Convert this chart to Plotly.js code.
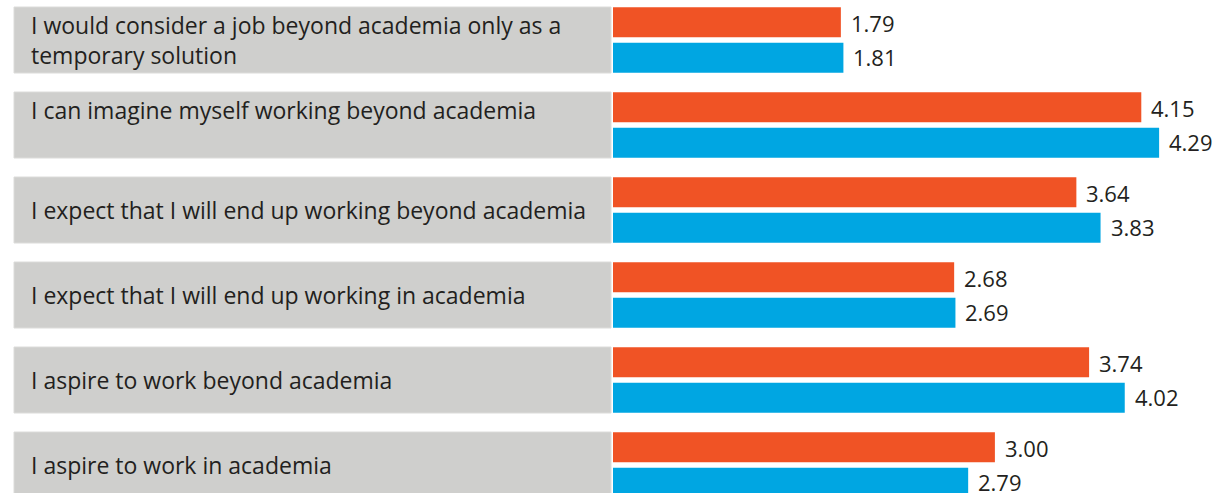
<!DOCTYPE html>
<html>
<head>
<meta charset="utf-8">
<script src="https://cdn.plot.ly/plotly-3.0.1.min.js"></script>
<style>
  html, body { margin: 0; padding: 0; background: #ffffff; }
  #chart { width: 1221px; height: 493px; }
</style>
</head>
<body>
<div id="chart"></div>
<script>
// ---- data ----
var statements = [
  "I would consider a job beyond academia only as a temporary solution",
  "I can imagine myself working beyond academia",
  "I expect that I will end up working beyond academia",
  "I expect that I will end up working in academia",
  "I aspire to work beyond academia",
  "I aspire to work in academia"
];
var statementLabels = [
  "I would consider a job beyond academia only as a<br>temporary solution",
  "I can imagine myself working beyond academia<br>&nbsp;",
  "I expect that I will end up working beyond academia",
  "I expect that I will end up working in academia",
  "I aspire to work beyond academia",
  "I aspire to work in academia"
];
var seriesOrange = [1.79, 4.15, 3.64, 2.68, 3.74, 3.00];
var seriesBlue   = [1.81, 4.29, 3.83, 2.69, 4.02, 2.79];

// ---- layout constants (pixels) ----
var W = 1221, H = 493;
var plotLeft = 613;
var plotW = W - plotLeft;
var pxPerUnit = 127.3;
var rowPx = 85;
var firstCenter = 40;
function px2paperX(px) { return (px - plotLeft) / plotW; }

var orange = '#F05325';
var blue = '#00A6E2';
var textColor = '#231F20';
var fontFam = '"Open Sans", "Noto Sans", sans-serif';

var traces = [
  { type: 'bar', orientation: 'h', y: statements, x: seriesOrange,
    marker: { color: orange }, hoverinfo: 'x' },
  { type: 'bar', orientation: 'h', y: statements, x: seriesBlue,
    marker: { color: blue }, hoverinfo: 'x' }
];

var shapes = [];
var annotations = [];
var half = 33 / rowPx;
statements.forEach(function (s, i) {
  shapes.push({
    type: 'rect', xref: 'paper', yref: 'y', layer: 'below',
    x0: px2paperX(14), x1: px2paperX(611),
    y0: i - half, y1: i + half,
    fillcolor: '#CFCFCD', line: { width: 1, color: '#DCDCDA' }
  });
  annotations.push({
    xref: 'paper', yref: 'y', x: px2paperX(29), y: s,
    xanchor: 'left', yanchor: 'middle', align: 'left',
    text: statementLabels[i], showarrow: false,
    font: { family: fontFam, size: 23, color: textColor }
  });
  annotations.push({
    xref: 'x', yref: 'y', x: seriesOrange[i], y: s,
    xanchor: 'left', yanchor: 'middle', xshift: 8, yshift: 17.5,
    text: seriesOrange[i].toFixed(2), showarrow: false,
    font: { family: fontFam, size: 22, color: textColor }
  });
  annotations.push({
    xref: 'x', yref: 'y', x: seriesBlue[i], y: s,
    xanchor: 'left', yanchor: 'middle', xshift: 8, yshift: -16.5,
    text: seriesBlue[i].toFixed(2), showarrow: false,
    font: { family: fontFam, size: 22, color: textColor }
  });
});

var yTop = -firstCenter / rowPx;
var yBottom = yTop + H / rowPx;

var layout = {
  width: W, height: H,
  margin: { l: plotLeft, r: 0, t: 0, b: 0, pad: 0 },
  paper_bgcolor: '#ffffff', plot_bgcolor: '#ffffff',
  showlegend: false,
  barmode: 'group',
  bargap: 0.165,
  bargroupgap: 0.15,
  xaxis: { range: [0, plotW / pxPerUnit], visible: false, fixedrange: true },
  yaxis: { type: 'category', categoryorder: 'array', categoryarray: statements,
           range: [yBottom, yTop], visible: false, fixedrange: true },
  shapes: shapes,
  annotations: annotations,
  font: { family: fontFam }
};

Plotly.newPlot('chart', traces, layout, { displayModeBar: false, staticPlot: true });
</script>
</body>
</html>
